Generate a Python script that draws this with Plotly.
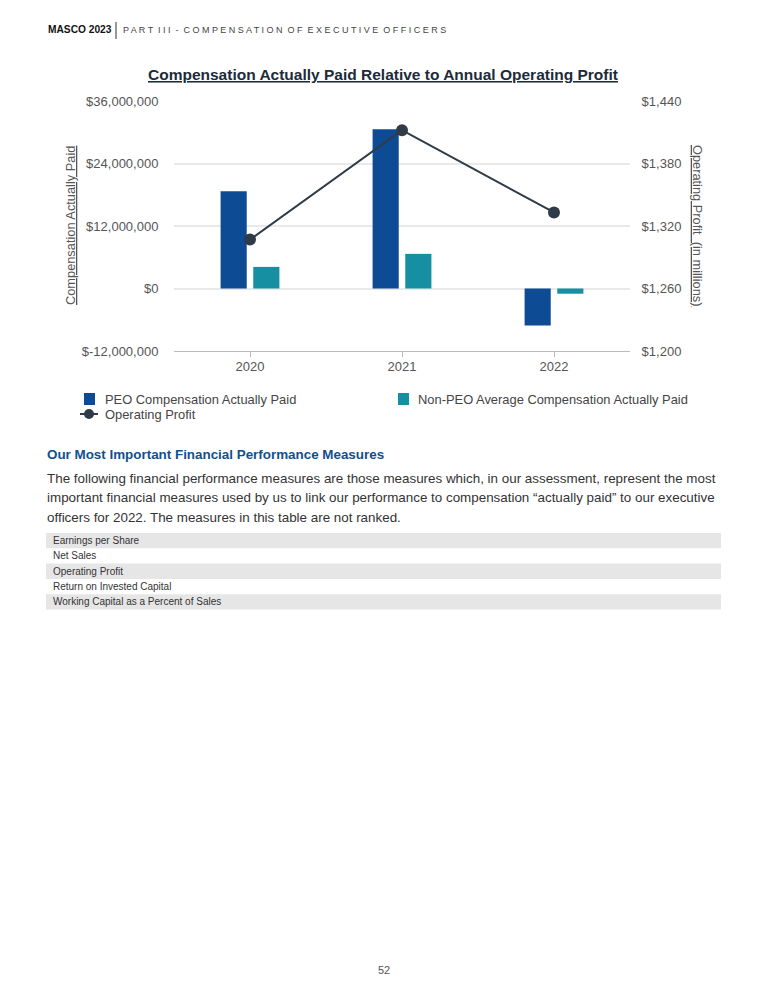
import plotly.graph_objects as go

# ---------------- data ----------------
years = ["2020", "2021", "2022"]
peo_cap = [18650000, 30600000, -7100000]
non_peo_cap = [4150000, 6650000, -1000000]
operating_profit = [1307, 1412, 1333]

left_tickvals = [-12000000, 0, 12000000, 24000000, 36000000]
left_ticktext = ["$-12,000,000", "$0", "$12,000,000", "$24,000,000", "$36,000,000"]
right_tickvals = [1200, 1260, 1320, 1380, 1440]
right_ticktext = ["$1,200", "$1,260", "$1,320", "$1,380", "$1,440"]

measures = ["Earnings per Share", "Net Sales", "Operating Profit",
            "Return on Invested Capital", "Working Capital as a Percent of Sales"]

PEO_COLOR = "#0d4b94"
NONPEO_COLOR = "#168fa3"
LINE_COLOR = "#2f3b46"
TICK_COLOR = "#555555"
FONT = "Liberation Sans, Arial, sans-serif"

# page offset of the plot div inside the browser page (body margin)
OFF = 8
W, H = 768 - OFF, 1000 - OFF
# plot area in page pixels
PL, PR, PT, PB = 174, 630, 101, 351


def px_x(v):
    return (v - PL) / (PR - PL)


def px_y(v):
    return (PB - v) / (PB - PT)


fig = go.Figure()
fig.add_trace(go.Bar(x=years, y=peo_cap, name="PEO Compensation Actually Paid",
                     marker=dict(color=PEO_COLOR, line=dict(width=0)), showlegend=False))
fig.add_trace(go.Bar(x=years, y=non_peo_cap, name="Non-PEO Average Compensation Actually Paid",
                     marker=dict(color=NONPEO_COLOR, line=dict(width=0)), showlegend=False))
fig.add_trace(go.Scatter(x=years, y=operating_profit, name="Operating Profit", yaxis="y2",
                         mode="lines+markers", line=dict(color=LINE_COLOR, width=2),
                         marker=dict(color=LINE_COLOR, size=12), showlegend=False))

annotations = []
shapes = []


def text(t, x, y, size, color, xanchor="left", angle=0):
    annotations.append(dict(text=t, x=px_x(x), y=px_y(y), xref="paper", yref="paper",
                            xanchor=xanchor, yanchor="middle", showarrow=False, textangle=angle,
                            font=dict(family=FONT, size=size, color=color)))


# header
text("<b>MASCO 2023</b>", 46, 30, 10.2, "#111111")
shapes.append(dict(type="line", xref="paper", yref="paper", x0=px_x(116), x1=px_x(116),
                   y0=px_y(22), y1=px_y(39), line=dict(color="#333333", width=1)))
text("P A R T  I I I  -  C O M P E N S A T I O N  O F  E X E C U T I V E  O F F I C E R S",
     121, 30, 9, "#444444")

# chart title
text("<b><u>Compensation Actually Paid Relative to Annual Operating Profit</u></b>",
     383, 75, 15.5, "#1c2b3a", xanchor="center")

# axis titles
text("<u>Compensation Actually Paid</u>", 70, 226, 12.8, TICK_COLOR, xanchor="center", angle=-90)
text("<u>Operating Profit  (in millions)</u>", 698, 225, 12.8, TICK_COLOR, xanchor="center", angle=90)


def rect(x0, y0, x1, y1, color, layer="above"):
    shapes.append(dict(type="rect", xref="paper", yref="paper", x0=px_x(x0), x1=px_x(x1),
                       y0=px_y(y1), y1=px_y(y0), fillcolor=color, line=dict(width=0), layer=layer))


# legend (manual)
rect(84, 393, 95, 405, PEO_COLOR)
text("PEO Compensation Actually Paid", 103, 399, 12.9, "#444444")
rect(398, 393, 409, 405, NONPEO_COLOR)
text("Non-PEO Average Compensation Actually Paid", 416, 399, 12.9, "#444444")
shapes.append(dict(type="line", xref="paper", yref="paper", x0=px_x(80), x1=px_x(98),
                   y0=px_y(414), y1=px_y(414), line=dict(color=LINE_COLOR, width=2)))
shapes.append(dict(type="circle", xref="paper", yref="paper", x0=px_x(84), x1=px_x(94),
                   y0=px_y(419), y1=px_y(409), fillcolor=LINE_COLOR, line=dict(width=0)))
text("Operating Profit", 103, 414, 12.9, "#444444")

# section heading & paragraph
text("<b>Our Most Important Financial Performance Measures</b>", 45, 454, 13.4, "#11508f")
para = ["The following financial performance measures are those measures which, in our assessment, represent the most",
        "important financial measures used by us to link our performance to compensation \u201cactually paid\u201d to our executive",
        "officers for 2022. The measures in this table are not ranked."]
for i, line in enumerate(para):
    text(line, 45, 478 + i * 19.5, 13.4, "#333333")

# table
row_top = 533
row_h = 15.3
for i, m in enumerate(measures):
    y0 = row_top + i * row_h
    if i % 2 == 0:
        rect(46, y0, 721, y0 + row_h, "#e6e6e6", layer="below")
    text(m, 51, y0 + row_h / 2, 10, "#333333")

# page number
text("52", 384, 970, 11, "#555555", xanchor="center")

fig.update_layout(
    width=W, height=H, autosize=False,
    margin=dict(l=PL - OFF, r=W - (PR - OFF), t=PT - OFF, b=H - (PB - OFF), pad=0),
    paper_bgcolor="white", plot_bgcolor="white",
    barmode="group", bargap=0.57, bargroupgap=0.2,
    showlegend=False,
    font=dict(family=FONT, size=13, color=TICK_COLOR),
    xaxis=dict(type="category", showgrid=False, showline=True, linecolor="#bbbbbb", linewidth=1.2,
               ticks="outside", ticklen=5, tickcolor="#bbbbbb", tickwidth=1,
               ticklabelstandoff=-2,
               tickfont=dict(family=FONT, size=13, color=TICK_COLOR), fixedrange=True),
    yaxis=dict(range=[-12000000, 36000000], tickvals=left_tickvals, ticktext=left_ticktext,
               showgrid=True, gridcolor="#e9e9e9", gridwidth=1.5, zeroline=False, showline=False,
               ticks="outside", ticklen=12, tickcolor="rgba(0,0,0,0)",
               tickfont=dict(family=FONT, size=13, color=TICK_COLOR)),
    yaxis2=dict(range=[1200, 1440], tickvals=right_tickvals, ticktext=right_ticktext,
                overlaying="y", side="right", showgrid=False, zeroline=False, showline=False,
                ticks="outside", ticklen=8, tickcolor="rgba(0,0,0,0)",
                tickfont=dict(family=FONT, size=13, color=TICK_COLOR)),
    annotations=annotations,
    shapes=shapes,
)

fig.write_html("out.html")
